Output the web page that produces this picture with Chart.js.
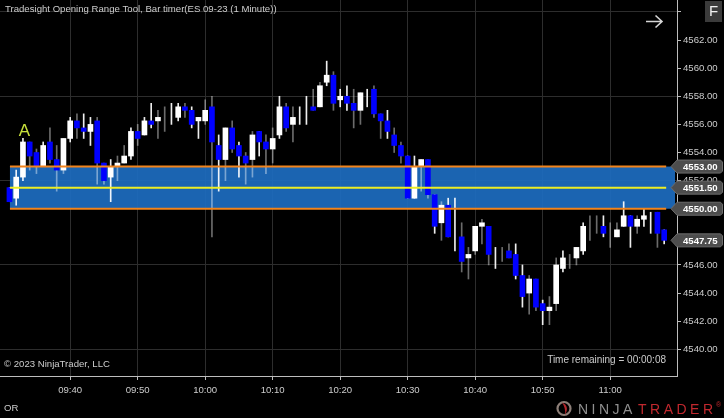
<!DOCTYPE html>
<html><head><meta charset="utf-8">
<script src="https://cdn.jsdelivr.net/npm/chart.js@4.4.0/dist/chart.umd.min.js"></script>
<style>html,body{margin:0;padding:0;background:#000;overflow:hidden}canvas{display:block}</style>
</head><body>
<canvas id="c" width="724" height="418"></canvas>
<script>
// ---------- DATA ----------
const times = [
"09:31","09:32","09:33","09:34","09:35","09:36","09:37","09:38","09:39",
"09:40","09:41","09:42","09:43","09:44","09:45","09:46","09:47","09:48","09:49",
"09:50","09:51","09:52","09:53","09:54","09:55","09:56","09:57","09:58","09:59",
"10:00","10:01","10:02","10:03","10:04","10:05","10:06","10:07","10:08","10:09",
"10:10","10:11","10:12","10:13","10:14","10:15","10:16","10:17","10:18","10:19",
"10:20","10:21","10:22","10:23","10:24","10:25","10:26","10:27","10:28","10:29",
"10:30","10:31","10:32","10:33","10:34","10:35","10:36","10:37","10:38","10:39",
"10:40","10:41","10:42","10:43","10:44","10:45","10:46","10:47","10:48","10:49",
"10:50","10:51","10:52","10:53","10:54","10:55","10:56","10:57","10:58","10:59",
"11:00","11:01","11:02","11:03","11:04","11:05","11:06","11:07","11:08"];

const open = [
4551.5,4550.75,4552.25,4554.75,4554,4553,4554.75,4553.5,4552.75,4555,
4556.25,4555.75,4555.5,4556.25,4553.25,4552.25,4553,4553.25,4553.75,4555.5,
4555.25,4556.25,4556.25,4556.5,4556.75,4556.5,4557.25,4557,4556.25,4556.25,
4557.25,4554.5,4553.5,4555.75,4554.5,4553.75,4553.5,4555.5,4554.75,4554.25,
4555.25,4557.25,4556,4556.5,4557,4557.25,4557.25,4559,4559.5,4557.75,
4558,4557.5,4557,4557.75,4558.5,4556.75,4556.25,4555.25,4554.5,4553.75,
4550.75,4553,4553.5,4551,4549,4550.25,4548.5,4548,4546.5,4547,
4548.75,4548.75,4546.5,4546.75,4547,4546.75,4545.25,4544,4545,4543.25,
4542.75,4543.25,4545.75,4546.25,4546.5,4547,4548.5,4549,4548.75,4548,
4548,4548.75,4549.5,4548.75,4549.25,4549,4549.75,4548.5];

const high = [
4551.5,4552.75,4555,4554.75,4554.25,4554.75,4555.75,4554.5,4555,4556.5,
4556.75,4556.75,4556.5,4556.5,4553.25,4553.5,4553.75,4554.5,4555.75,4556,
4556.5,4557.5,4557,4557.25,4557.5,4557.5,4557.5,4557.25,4556.5,4557.75,
4558,4555.25,4555.75,4556.25,4554.75,4554,4555.5,4555.5,4555.25,4555.75,
4558,4557.5,4557.25,4557.25,4558,4558.5,4559,4560.5,4559.75,4558.5,
4558.75,4558.5,4558.25,4558.5,4558.75,4556.75,4557,4555.75,4554.75,4553.75,
4553.75,4553.5,4553.5,4551,4550.5,4550.75,4550.75,4549,4547.25,4548.75,
4549.25,4548.75,4547.25,4547.25,4547.5,4547.5,4546,4545.25,4545,4543.5,
4543.75,4546.5,4547,4546.75,4547.25,4549,4549.5,4549.5,4549.5,4549,
4549,4550.5,4549.5,4549.5,4550,4549.75,4549.75,4548.5];

const low = [
4550.5,4550.25,4552,4552.75,4552.5,4553,4553.25,4551.25,4552.5,4554.75,
4555,4555,4554.5,4551.75,4551.75,4550.5,4552,4553.25,4553.5,4554.5,
4555.25,4555.75,4555,4555.5,4556,4556.25,4556.5,4555.75,4555,4556,
4548,4551.25,4552,4554,4552.25,4551.75,4552.25,4553.75,4552.5,4553.25,
4555,4555.5,4554.75,4556,4556,4557,4557.25,4558.75,4557,4557.25,
4557,4555.75,4556,4557.25,4556.5,4555,4555,4554,4553.25,4550.75,
4550.75,4551.25,4550.75,4548.25,4547.75,4548,4547,4545.5,4545,4546.75,
4547.5,4546,4545.75,4546.25,4546.5,4545,4543,4542.5,4542.75,4541.75,
4541.75,4542.75,4545.5,4545.75,4546,4546.75,4547.75,4548.25,4548,4547.25,
4548,4548.75,4547.25,4548.25,4548.75,4548.25,4547.25,4547.5];

const close = [
4550.5,4552.25,4554.75,4553.75,4553,4554.5,4553.5,4552.75,4555,4556.25,
4555.75,4555.5,4556,4553.25,4552,4553,4553.25,4553.75,4555.5,4555,
4556.25,4556,4556.5,4556.5,4556.75,4557.25,4557,4556,4556.5,4557,
4554.75,4553.5,4555.75,4554.25,4553.75,4553.25,4555.25,4554.75,4554.25,4555,
4557.25,4555.75,4556.5,4556.5,4557,4557,4558.75,4559.5,4557.5,4558,
4557.5,4557,4558.25,4557.75,4556.75,4556.25,4555.5,4554.5,4553.75,4550.75,
4553,4553.5,4551,4548.75,4550.25,4548,4548.5,4546.25,4546.75,4548.75,
4549,4546.75,4546.5,4546.75,4546.5,4545.25,4543.75,4545,4543,4542.75,
4543,4546,4546.5,4546.25,4547.25,4548.75,4548.5,4549,4548.25,4548,
4548.5,4549.5,4548.75,4549.25,4549.5,4549,4548.25,4547.75];

// opening range levels
const orHigh = 4553.00;
const orMid  = 4551.50;
const orLow  = 4550.00;

// tick labels
const xTickLabels = ["09:40","09:50","10:00","10:10","10:20","10:30","10:40","10:50","11:00"];
const yTickValues = [4540,4542,4544,4546,4548,4550,4552,4554,4556,4558,4560,4562,4564];
const yGridValues = [4540,4546,4552,4558,4564];

// ---------- STYLE ----------
const wickDim = [
0,0,0,1,1,0,1,1,1,0, 1,0,0,1,1,0,1,1,0,1, 0,0,1,1,0,0,1,0,0,1,
1,0,1,1,0,1,1,0,1,1, 0,1,1,0,0,1,1,0,1,0, 0,1,1,0,1,1,0,1,1,0,
0,1,1,0,1,0,0,1,1,1, 1,1,0,1,1,0,0,1,1,0, 1,1,0,1,1,0,1,1,0,1,
1,0,0,1,0,0,1,0];
const FONT = '"Liberation Sans", Arial, sans-serif';
const TXT = '#cccccc';

function toMin(s){const p=s.split(':');return (+p[0])*60 + (+p[1]);}
function fmtTime(m){const h=Math.floor(m/60), mm=Math.round(m-h*60);return String(h).padStart(2,'0')+':'+String(mm).padStart(2,'0');}

const xs = times.map(toMin);
const wickData = xs.map((x,i)=>({x:x, y:[low[i], high[i]]}));
const bodyData = xs.map((x,i)=>({x:x, y:[open[i], close[i]]}));
const bodyColors = open.map((o,i)=> close[i] > o ? '#ffffff' : (close[i] < o ? '#0000ff' : 'rgba(0,0,0,0)'));
const wickColors = wickDim.map(d => d ? 'rgba(255,255,255,0.42)' : 'rgba(255,255,255,0.93)');

const bgPlugin = {
  id:'bg',
  beforeDraw(chart){const c=chart.ctx;c.save();c.fillStyle='#000';c.fillRect(0,0,chart.width,chart.height);c.restore();}
};

function bandX(chart){
  const x = chart.scales.x;
  return [x.getPixelForValue(xs[0]) + 0.5, x.getPixelForValue(xs[xs.length-1]) + 2];
}

const bandPlugin = {
  id:'band',
  beforeDatasetsDraw(chart){
    const {ctx, scales:{y}, chartArea:a} = chart;
    const [x0] = bandX(chart);
    const yt = y.getPixelForValue(orHigh), yb = y.getPixelForValue(orLow);
    ctx.save();
    ctx.fillStyle = 'rgba(29,108,190,0.93)';
    ctx.fillRect(x0, yt, a.right - 2 - x0, yb - yt);
    ctx.restore();
  },
  afterDatasetsDraw(chart){
    const {ctx, scales:{x,y}} = chart;
    const [x0,x1] = bandX(chart);
    ctx.save();
    ctx.lineWidth = 2;
    ctx.strokeStyle = '#f2841c';
    [orHigh, orLow].forEach(v=>{const yy=y.getPixelForValue(v);ctx.beginPath();ctx.moveTo(x0,yy);ctx.lineTo(x1,yy);ctx.stroke();});
    ctx.strokeStyle = '#eeee24';
    const ym = y.getPixelForValue(orMid);
    ctx.beginPath();ctx.moveTo(x0,ym);ctx.lineTo(x1,ym);ctx.stroke();
    // "A" marker above the third bar
    ctx.fillStyle = '#c9e23b';
    ctx.font = '17px ' + FONT;
    ctx.textAlign = 'center'; ctx.textBaseline = 'alphabetic';
    ctx.fillText('A', x.getPixelForValue(xs[2]) + 1.5, y.getPixelForValue(high[2]) - 2.5);
    ctx.restore();
  }
};

function tag(ctx, yc, text){
  ctx.beginPath();
  ctx.moveTo(671, yc);
  ctx.lineTo(677, yc-6.5);
  ctx.lineTo(720.5, yc-6.5);
  ctx.lineTo(722.5, yc-4.5);
  ctx.lineTo(722.5, yc+4.5);
  ctx.lineTo(720.5, yc+6.5);
  ctx.lineTo(677, yc+6.5);
  ctx.closePath();
  ctx.fillStyle = '#4d4d4d'; ctx.fill();
  ctx.strokeStyle = '#6c6c6c'; ctx.lineWidth = 1; ctx.stroke();
  ctx.fillStyle = '#ffffff';
  ctx.font = 'bold 9.6px ' + FONT;
  ctx.textAlign = 'left'; ctx.textBaseline = 'middle';
  ctx.fillText(text, 683, yc + 0.5);
}

const overlayPlugin = {
  id:'overlay',
  afterDraw(chart){
    const {ctx, scales:{y}} = chart;
    ctx.save();
    // title
    ctx.fillStyle = TXT; ctx.font = '9.6px ' + FONT;
    ctx.textAlign = 'left'; ctx.textBaseline = 'middle';
    ctx.fillText('Tradesight Opening Range Tool, Bar timer(ES 09-23 (1 Minute))', 5, 9.5);
    // copyright
    ctx.fillText('\u00A9 2023 NinjaTrader, LLC', 4, 364.5);
    // OR
    ctx.fillText('OR', 4, 408);
    // time remaining
    ctx.font = '10px ' + FONT; ctx.textAlign = 'right';
    ctx.fillText('Time remaining = 00:00:08', 666, 360);
    // arrow
    ctx.strokeStyle = '#d6d6d6'; ctx.lineWidth = 1.6;
    ctx.beginPath(); ctx.moveTo(646, 21.5); ctx.lineTo(662, 21.5);
    ctx.moveTo(655.5, 15.5); ctx.lineTo(662, 21.5); ctx.lineTo(655.5, 27.5); ctx.stroke();
    // F box
    ctx.fillStyle = '#3b3b3b'; ctx.fillRect(705, 1, 17, 21);
    ctx.fillStyle = '#f0f0f0'; ctx.font = '15px ' + FONT; ctx.textAlign = 'center'; ctx.textBaseline = 'middle';
    ctx.fillText('F', 713.5, 12);
    // price tags
    tag(ctx, y.getPixelForValue(orHigh), orHigh.toFixed(2));
    tag(ctx, y.getPixelForValue(orMid), orMid.toFixed(2));
    tag(ctx, y.getPixelForValue(orLow), orLow.toFixed(2));
    const last = close[close.length-1];
    tag(ctx, y.getPixelForValue(last), last.toFixed(2));
    // NinjaTrader logo
    ctx.lineWidth = 2.2; ctx.strokeStyle = '#8d7f78';
    ctx.beginPath(); ctx.arc(564, 408.5, 6.5, 0, Math.PI*2); ctx.stroke();
    ctx.fillStyle = '#b3272c';
    ctx.beginPath(); ctx.moveTo(562, 402.5); ctx.quadraticCurveTo(570, 406, 565, 415); ctx.quadraticCurveTo(566, 408, 562, 402.5); ctx.fill();
    ctx.textAlign = 'left'; ctx.textBaseline = 'alphabetic';
    ctx.font = '14px ' + FONT;
    try { ctx.letterSpacing = '3.5px'; } catch(e) {}
    ctx.fillStyle = '#8f8f8f'; ctx.fillText('NINJA', 578, 414);
    ctx.fillStyle = '#c0282e'; ctx.fillText('TRADER', 638, 414);
    try { ctx.letterSpacing = '0px'; } catch(e) {}
    ctx.font = '7px ' + FONT; ctx.fillText('\u00AE', 716, 407);
    ctx.restore();
  }
};

new Chart(document.getElementById('c'), {
  type: 'bar',
  data: { datasets: [
    { label:'wick', data: wickData, backgroundColor: wickColors, barThickness: 1, grouped: false, order: 2, borderWidth: 0 },
    { label:'body', data: bodyData, backgroundColor: bodyColors, barThickness: 5, grouped: false, order: 1, borderWidth: 0 }
  ]},
  options: {
    responsive: false, animation: false, devicePixelRatio: 1,
    layout: { padding: 0 },
    events: [],
    plugins: { legend: {display:false}, tooltip: {enabled:false}, title: {display:false} },
    scales: {
      x: {
        type: 'linear', position: 'bottom', min: 569.6, max: 669.9,
        offset: false, beginAtZero: false,
        afterBuildTicks: s => { s.ticks = xTickLabels.map(l => ({value: toMin(l)})); },
        afterFit: s => { s.height = 42; s.paddingLeft = 0; s.paddingRight = 0; },
        grid: { offset: false, color: '#2d2d2d', lineWidth: 1, drawTicks: true, tickLength: 4, tickColor: '#bdbdbd' },
        border: { display: true, color: '#bdbdbd', width: 1 },
        ticks: { callback: v => fmtTime(v), color: TXT, font: { family: FONT, size: 9.6 }, padding: 5, maxRotation: 0, autoSkip: false }
      },
      y: {
        type: 'linear', position: 'right', min: 4538.1, max: 4564.85, beginAtZero: false,
        afterBuildTicks: s => { s.ticks = yTickValues.map(v => ({value: v})); },
        afterFit: s => { s.width = 47; s.paddingTop = 0; s.paddingBottom = 0; },
        grid: {
          color: c => (c.tick && yGridValues.indexOf(c.tick.value) >= 0) ? '#2d2d2d' : 'rgba(0,0,0,0)',
          lineWidth: 1, drawTicks: true, tickLength: 4, tickColor: '#bdbdbd'
        },
        border: { display: true, color: '#bdbdbd', width: 1 },
        ticks: { callback: v => v > 4562 ? '' : Number(v).toFixed(2), color: TXT, font: { family: FONT, size: 9.6 }, padding: 2, autoSkip: false }
      }
    }
  },
  plugins: [bgPlugin, bandPlugin, overlayPlugin]
});
</script>
</body></html>
